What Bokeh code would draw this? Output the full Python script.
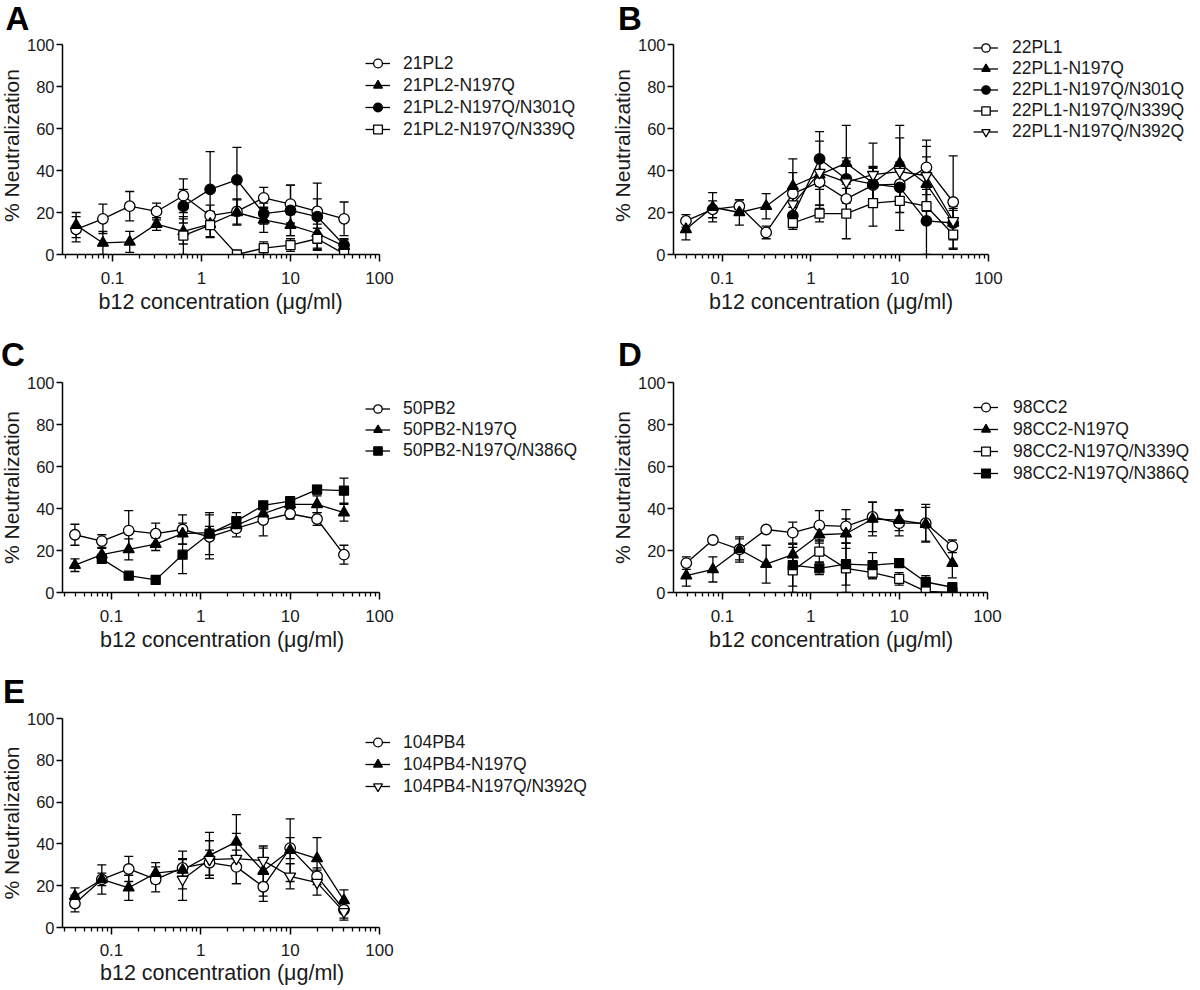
import math
from bokeh.plotting import figure
from bokeh.layouts import column, row
from bokeh.models import (Range1d, FixedTicker, CustomJSTickFormatter, Whisker, TeeHead,
                          ColumnDataSource, Legend, LegendItem, Title)
from bokeh.embed import file_html
from bokeh.resources import INLINE

# ---------------- data ----------------
conc = [0.039, 0.078, 0.156, 0.3125, 0.625, 1.25, 2.5, 5, 10, 20, 40]
x_major = [0.1, 1, 10, 100]
x_minor = [0.03, 0.04, 0.05, 0.06, 0.07, 0.08, 0.09,
           0.2, 0.3, 0.4, 0.5, 0.6, 0.7, 0.8, 0.9,
           2, 3, 4, 5, 6, 7, 8, 9,
           20, 30, 40, 50, 60, 70, 80, 90]
y_ticks = [0, 20, 40, 60, 80, 100]
y_title = "% Neutralization"
x_title = "b12 concentration (\u03bcg/ml)"
N = None

# Panel A
a_names = ["21PL2", "21PL2-N197Q", "21PL2-N197Q/N301Q", "21PL2-N197Q/N339Q"]
a_markers = ["circle", "triangle", "circle", "square"]
a_fills = ["white", "black", "black", "white"]
a_21PL2 = [12, 17, 23, 20.5, 28, 18.5, 20.5, 27, 24, 20.5, 17]
a_21PL2_err = [6, 7, 7, 4, 8, 5, 6, 5, 9, 6, 8]
a_N197Q = [14, 5.5, 6, 14.5, 11, 14.5, 20, 16.5, 14, 10, 4]
a_N197Q_err = [6, 5.5, 5, 3, 6, 6, 6, 6, 5, 7, 3]
a_N301Q = [N, N, N, N, 23, 31, 35.5, 19.5, 21, 18, 4.5]
a_N301Q_err = [N, N, N, N, 8, 18, 15.5, 5, 12, 16, 3]
a_N339Q = [N, N, N, N, 9, 14, 0, 3, 4.5, 7.5, 0.3]
a_N339Q_err = [N, N, N, N, 9, 6, 0, 3, 3, 5, 1]

# Panel B
b_names = ["22PL1", "22PL1-N197Q", "22PL1-N197Q/N301Q", "22PL1-N197Q/N339Q", "22PL1-N197Q/N392Q"]
b_markers = ["circle", "triangle", "circle", "square", "inverted_triangle"]
b_fills = ["white", "black", "black", "white", "white"]
b_22PL1 = [16, 21.5, 23, 10.5, 29, 34.5, 26.5, 33, 33.5, 41.5, 25]
b_22PL1_err = [3, 4, 3, 3, 10, 11, 7, 8, 10, 13, 22]
b_N197Q = [12, 22.5, 20, 23, 32.5, 38, 43.5, 34, 43.5, 33.5, 15]
b_N197Q_err = [5, 7, 6, 6, 13, 16, 18, 8, 18, 13, 8]
b_N301Q = [N, N, N, N, 18.5, 45.5, 36, 33.5, 32, 16, 15]
b_N301Q_err = [N, N, N, N, 4, 13, 10, 8, 12, 16, 6]
b_N339Q = [N, N, N, N, 15, 19.5, 19.5, 24.5, 25.5, 23, 9.5]
b_N339Q_err = [N, N, N, N, 3, 4, 12, 11, 14, 8, 7]
b_N392Q = [N, N, N, N, 24, 39, 34.5, 38, 39.5, 37.5, 16]
b_N392Q_err = [N, N, N, N, 5, 8, 10, 15, 16, 14, 6]

# Panel C
c_names = ["50PB2", "50PB2-N197Q", "50PB2-N197Q/N386Q"]
c_markers = ["circle", "triangle", "square"]
c_fills = ["white", "black", "black"]
c_50PB2 = [27.5, 24.5, 29.5, 28, 30, 26.5, 30.5, 34.5, 37.5, 35, 18]
c_50PB2_err = [5, 3, 9.5, 5, 7, 10.5, 4, 7.5, 2.5, 3, 4.5]
c_N197Q = [13, 18, 20.5, 23, 28, 28.5, 32, 37.5, 42, 42, 38]
c_N197Q_err = [3, 3, 5, 3, 5, 3, 3, 3, 2, 4, 4]
c_N386Q = [N, 16, 8, 6, 18, 28, 34, 41.5, 43.5, 49, 48.5]
c_N386Q_err = [N, 1, 1, 1, 9, 10, 4, 1, 1, 2, 6]

# Panel D
d_names = ["98CC2", "98CC2-N197Q", "98CC2-N197Q/N339Q", "98CC2-N197Q/N386Q"]
d_markers = ["circle", "triangle", "square", "square"]
d_fills = ["white", "black", "white", "black"]
d_98CC2 = [14, 25, 20.5, 30, 28.5, 32, 31.5, 36, 33, 33, 22]
d_98CC2_err = [3, 0, 5, 0, 5, 7, 8, 7, 6, 9, 3]
d_N197Q = [8, 11, 20.5, 13.5, 18, 27.5, 28, 35, 34.5, 32.5, 14]
d_N197Q_err = [5, 6, 6, 9, 5, 4, 7, 8, 5, 8, 7]
d_N339Q = [N, N, N, N, 10.5, 19.5, 11.5, 9.5, 6.5, 0.5, 0]
d_N339Q_err = [N, N, N, N, 11, 5, 12, 3, 3, 0, 0]
d_N386Q = [N, N, N, N, 13, 11.5, 13.5, 13, 14, 5, 2.5]
d_N386Q_err = [N, N, N, N, 10, 3, 10, 6, 1, 3, 1]

# Panel E
e_names = ["104PB4", "104PB4-N197Q", "104PB4-N197Q/N392Q"]
e_markers = ["circle", "triangle", "inverted_triangle"]
e_fills = ["white", "black", "white"]
e_104PB4 = [11.5, 23, 28, 23, 28.5, 31, 29, 19.5, 38, 24.5, 8.5]
e_104PB4_err = [4, 3, 6, 6, 4, 6, 8, 7, 5, 4, 4]
e_N197Q = [15, 23, 19, 26, 27.5, 34.5, 41, 27, 37, 33, 13]
e_N197Q_err = [4, 7, 6, 5, 9, 11, 13, 12, 15, 10, 5]
e_N392Q = [N, N, N, N, 23, 32.5, 33, 32, 24.5, 21.5, 7.5]
e_N392Q_err = [N, N, N, N, 10, 9, 12, 6, 6, 6, 4]

# ---------------- style ----------------
FONT = "Liberation Sans"
TXT = "#1a1a1a"
SIZES = {"circle": 10.5, "triangle": 11, "square": 9, "inverted_triangle": 11}


def build(letter, names, markers, fills, values, errors, g):
    # axis span (to 100) is g["aw"] px; the frame is widened to g["fw"] so the
    # legend sits inside it; extra top room g["top"] px above y=100
    decade = g["aw"] / (2 - math.log10(g["xstart"]))
    x_end = 10 ** (2 + (g["fw"] - g["aw"]) / decade)
    fh = g["ah"] + g["top"]
    y_end = 100.0 * fh / g["ah"]
    p = figure(x_axis_type="log",
               x_range=Range1d(g["xstart"], x_end), y_range=Range1d(0, y_end),
               frame_width=g["fw"], frame_height=fh,
               min_border_left=67, min_border_right=2,
               min_border_top=g["T"], min_border_bottom=g["B"],
               output_backend="svg", toolbar_location=None,
               outline_line_color=None, background_fill_color="white",
               border_fill_color="white")
    p.grid.visible = False

    # panel letter
    p.title.text = letter
    p.title.align = "left"
    p.title.offset = g["lt_off"]
    p.title.standoff = g["lt_so"]
    p.title.vertical_align = g["lt_va"]
    p.title.text_font = FONT
    p.title.text_font_style = "bold"
    p.title.text_font_size = "33px"
    p.title.text_color = "black"

    # x axis
    xa = p.xaxis[0]
    xa.bounds = (g["xstart"], 100)
    xa.ticker = FixedTicker(ticks=x_major, minor_ticks=x_minor)
    xa.formatter = CustomJSTickFormatter(code="return String(tick);")
    xa.axis_line_width = 1.5
    xa.axis_line_color = "black"
    xa.major_tick_line_width = 1.5
    xa.minor_tick_line_width = 1.3
    xa.major_tick_out = 7
    xa.major_tick_in = 0
    xa.minor_tick_out = 4
    xa.minor_tick_in = 0
    xa.major_label_standoff = g["xl_so"]
    xa.major_label_text_font = FONT
    xa.major_label_text_font_size = "17px"
    xa.major_label_text_color = TXT

    xt = Title(text=x_title, align="left", offset=g["xt_off"], standoff=g["xt_so"],
               vertical_align="bottom", text_font=FONT, text_font_style="normal",
               text_font_size="21.5px", text_color=TXT)
    p.add_layout(xt, "below")

    # y axis
    ya = p.yaxis[0]
    ya.bounds = (0, 100)
    ya.ticker = FixedTicker(ticks=y_ticks, minor_ticks=[])
    ya.axis_line_width = 1.5
    ya.axis_line_color = "black"
    ya.major_tick_line_width = 1.5
    ya.major_tick_out = 6
    ya.major_tick_in = 0
    ya.minor_tick_out = 0
    ya.minor_tick_in = 0
    ya.major_label_standoff = 2
    ya.major_label_text_font = FONT
    ya.major_label_text_font_size = "16.5px"
    ya.major_label_text_color = TXT
    ya.axis_label = y_title
    ya.axis_label_standoff = 1
    ya.axis_label_text_font = FONT
    ya.axis_label_text_font_size = "21px"
    ya.axis_label_text_font_style = "normal"
    ya.axis_label_text_color = TXT

    sources = []
    for ys, es in zip(values, errors):
        xs = [c for c, v in zip(conc, ys) if v is not None]
        yv = [v for v in ys if v is not None]
        ev = [e for e, v in zip(es, ys) if v is not None]
        sources.append(ColumnDataSource(dict(x=xs, y=yv)))
        wx = [x for x, e in zip(xs, ev) if e > 0]
        wu = [y + e for y, e in zip(yv, ev) if e > 0]
        wl = [max(0, y - e) for y, e in zip(yv, ev) if e > 0]
        wsrc = ColumnDataSource(dict(x=wx, up=wu, lo=wl))
        p.add_layout(Whisker(source=wsrc, base="x", upper="up", lower="lo",
                             dimension="height", line_color="black", line_width=1.3,
                             upper_head=TeeHead(size=9, line_width=1.3, line_color="black"),
                             lower_head=TeeHead(size=9, line_width=1.3, line_color="black")))
    line_rs = []
    for src in sources:
        line_rs.append(p.line("x", "y", source=src, line_color="black", line_width=1.3))
    mark_rs = []
    for src, mk, fc in zip(sources, markers, fills):
        mark_rs.append(p.scatter("x", "y", source=src, marker=mk, size=SIZES[mk],
                                 fill_color=fc, line_color="black", line_width=1.3))

    items = [LegendItem(label=nm, renderers=[lr, mr])
             for nm, lr, mr in zip(names, line_rs, mark_rs)]
    leg = Legend(items=items, location=(g["leg_x"], g["leg_y"]),
                 glyph_width=25, glyph_height=g["leg_h"], label_height=g["leg_h"],
                 spacing=0, padding=0, margin=0, label_standoff=g["leg_so"],
                 border_line_color=None, background_fill_alpha=0,
                 label_text_font=FONT, label_text_font_size="17.5px",
                 label_text_color=TXT)
    p.add_layout(leg)
    return p


pA = build("A", a_names, a_markers, a_fills,
           [a_21PL2, a_N197Q, a_N301Q, a_N339Q],
           [a_21PL2_err, a_N197Q_err, a_N301Q_err, a_N339Q_err],
           dict(T=41, B=70, aw=317, fw=542, ah=210, top=8, xstart=10 ** -1.562,
                lt_off=-57, lt_so=0, lt_va="bottom", xt_off=36, xt_so=3, xl_so=10,
                leg_x=303, leg_y=114, leg_h=22, leg_so=13))
pB = build("B", b_names, b_markers, b_fills,
           [b_22PL1, b_N197Q, b_N301Q, b_N339Q, b_N392Q],
           [b_22PL1_err, b_N197Q_err, b_N301Q_err, b_N339Q_err, b_N392Q_err],
           dict(T=41, B=70, aw=315, fw=525, ah=210, top=8, xstart=10 ** -1.549,
                lt_off=-55.5, lt_so=0, lt_va="bottom", xt_off=35.5, xt_so=3, xl_so=10,
                leg_x=300, leg_y=112.5, leg_h=21, leg_so=14))
pC = build("C", c_names, c_markers, c_fills,
           [c_50PB2, c_N197Q, c_N386Q],
           [c_50PB2_err, c_N197Q_err, c_N386Q_err],
           dict(T=58, B=74, aw=317, fw=542, ah=210, top=0, xstart=10 ** -1.548,
                lt_off=-61.5, lt_so=19, lt_va="bottom", xt_off=37.5, xt_so=3, xl_so=10,
                leg_x=303, leg_y=131.5, leg_h=21, leg_so=13))
pD = build("D", d_names, d_markers, d_fills,
           [d_98CC2, d_N197Q, d_N339Q, d_N386Q],
           [d_98CC2_err, d_N197Q_err, d_N339Q_err, d_N386Q_err],
           dict(T=58, B=74, aw=314, fw=525, ah=210, top=0, xstart=10 ** -1.554,
                lt_off=-55.5, lt_so=19, lt_va="bottom", xt_off=35.5, xt_so=3, xl_so=10,
                leg_x=300, leg_y=108, leg_h=22, leg_so=15))
pE = build("E", e_names, e_markers, e_fills,
           [e_104PB4, e_N197Q, e_N392Q],
           [e_104PB4_err, e_N197Q_err, e_N392Q_err],
           dict(T=52, B=63, aw=317, fw=542, ah=209, top=0, xstart=10 ** -1.548,
                lt_off=-59.5, lt_so=13, lt_va="top", xt_off=37.5, xt_so=1, xl_so=9,
                leg_x=303, leg_y=130, leg_h=22, leg_so=13))

layout = column(row(pA, pB), row(pC, pD), row(pE),
                styles={"margin-left": "-5px", "margin-top": "-5px"})
open("out.html", "w").write(file_html(layout, INLINE))
